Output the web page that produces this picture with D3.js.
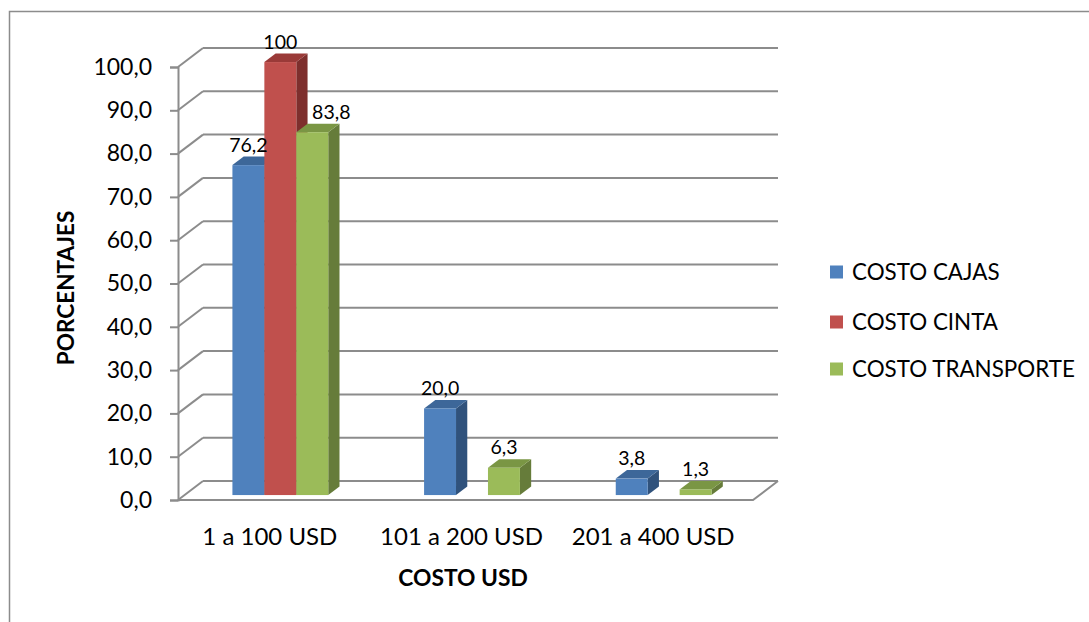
<!DOCTYPE html>
<html>
<head>
<meta charset="utf-8">
<script src="https://cdn.jsdelivr.net/npm/d3@7/dist/d3.min.js"></script>
<style>
  html, body { margin: 0; padding: 0; background: #fff; }
  svg { display: block; }
  text { font-family: "Lato", "Open Sans", sans-serif; fill: #000; }
</style>
</head>
<body>
<svg id="chart" width="1089" height="622"></svg>
<script>
// Cost ranges (x axis)
const categories = ["1 a 100 USD", "101 a 200 USD", "201 a 400 USD"];
// Series names
const seriesNames = ["COSTO CAJAS", "COSTO CINTA", "COSTO TRANSPORTE"];
// Percentages per series, one per cost range (null = no bar)
const costoCajas = [76.2, 20.0, 3.8];
const costoCinta = [100, null, null];
const costoTransporte = [83.8, 6.3, 1.3];
// Y axis ticks
const yTicks = [0, 10, 20, 30, 40, 50, 60, 70, 80, 90, 100];

const seriesValues = [costoCajas, costoCinta, costoTransporte];
const colors = [
  { front: "#4F81BD", side: "#30527C", top: "#3D6799" },
  { front: "#C0504D", side: "#7E2F2D", top: "#9A3A38" },
  { front: "#9BBB59", side: "#667C3A", top: "#7A9644" }
];
const gridColor = "#8C8C8C";

const svg = d3.select("#chart");

// Outer frame
svg.append("rect")
  .attr("x", 9.5).attr("y", 11.5)
  .attr("width", 1100).attr("height", 640)
  .attr("fill", "none").attr("stroke", "#8C8C8C").attr("stroke-width", 1.5);

// Plot geometry (front plane + oblique depth)
const x0 = 178, x1 = 753;
const depthX = 25, depthY = -19;
const y = d3.scaleLinear().domain([0, 100]).range([500, 67]);
const x = d3.scaleBand().domain(categories).range([x0, x1]).paddingInner(0).paddingOuter(0);
const xs = d3.scaleBand().domain(seriesNames).range([0, x.bandwidth()]).paddingInner(0).paddingOuter(1.5);

// Bars sit between these depth fractions
const barDepthStart = 0.26, barDepthEnd = 0.71;

const grid = svg.append("g");

// Back wall gridlines + side-wall diagonals
yTicks.forEach(t => {
  const yf = y(t);
  grid.append("line")
    .attr("x1", x0 + depthX).attr("x2", x1 + depthX)
    .attr("y1", yf + depthY).attr("y2", yf + depthY)
    .attr("stroke", gridColor).attr("stroke-width", 2);
  grid.append("line")
    .attr("x1", x0).attr("x2", x0 + depthX)
    .attr("y1", yf).attr("y2", yf + depthY)
    .attr("stroke", gridColor).attr("stroke-width", 2);
});

// Floor edges
grid.append("path")
  .attr("d", `M${x0},${y(0)} L${x1},${y(0)} L${x1 + depthX},${y(0) + depthY}`)
  .attr("fill", "none").attr("stroke", gridColor).attr("stroke-width", 2);

// Vertical axis (front)
const yAxis = d3.axisLeft(y).tickValues(yTicks).tickSize(8).tickPadding(18)
  .tickFormat(d => d3.format(".1f")(d).replace(".", ","));
const yAxisG = svg.append("g").attr("transform", `translate(${x0},0)`).call(yAxis);
yAxisG.select(".domain").attr("stroke", gridColor).attr("stroke-width", 2);
yAxisG.selectAll(".tick line").attr("stroke", gridColor).attr("stroke-width", 2);
yAxisG.selectAll(".tick text").attr("font-size", 23).attr("font-family", "Lato, sans-serif").attr("fill", "#000");

// Bars
const bars = svg.append("g");
const labels = svg.append("g");
const dxs = depthX * barDepthStart, dys = depthY * barDepthStart;
const bdx = depthX * (barDepthEnd - barDepthStart), bdy = depthY * (barDepthEnd - barDepthStart);
const labelFormats = [
  d => d3.format(".1f")(d).replace(".", ","),
  d => d3.format("d")(d),
  d => d3.format(".1f")(d).replace(".", ",")
];

categories.forEach((cat, ci) => {
  seriesNames.forEach((s, si) => {
    const v = seriesValues[si][ci];
    if (v === null) return;
    const left = x(cat) + xs(s) + dxs;
    const right = left + xs.bandwidth();
    const bottom = y(0) + dys;
    const top = y(v) + dys;
    const c = colors[si];
    // side face
    bars.append("path")
      .attr("d", `M${right},${bottom} L${right + bdx},${bottom + bdy} L${right + bdx},${top + bdy} L${right},${top} Z`)
      .attr("fill", c.side);
    // top face
    bars.append("path")
      .attr("d", `M${left},${top} L${right},${top} L${right + bdx},${top + bdy} L${left + bdx},${top + bdy} Z`)
      .attr("fill", c.top);
    // front face
    bars.append("rect")
      .attr("x", left).attr("y", top)
      .attr("width", right - left).attr("height", bottom - top)
      .attr("fill", c.front);

    // value label; the transport label in the first range is nudged clear of the taller neighbour
    const nudge = (ci === 0 && si === 2) ? 19 : 0;
    labels.append("text")
      .attr("x", (left + right) / 2 + nudge)
      .attr("y", top + bdy - 5)
      .attr("text-anchor", "middle")
      .attr("font-size", 19.5)
      .text(labelFormats[si](v));
  });
});

// Category labels
const xAxis = d3.axisBottom(x).tickSize(0).tickPadding(0);
const xAxisG = svg.append("g").attr("transform", `translate(-4,536)`).call(xAxis);
xAxisG.select(".domain").remove();
xAxisG.selectAll(".tick text").attr("font-size", 24).attr("font-family", "Lato, sans-serif")
  .attr("fill", "#000").attr("dy", "0.36em").attr("y", 0);

// Axis titles
svg.append("text")
  .attr("x", 463).attr("y", 586)
  .attr("text-anchor", "middle").attr("font-size", 22.8).attr("font-weight", "bold")
  .text("COSTO USD");
svg.append("text")
  .attr("transform", "translate(74,288) rotate(-90)")
  .attr("text-anchor", "middle").attr("font-size", 22.6).attr("font-weight", "bold")
  .text("PORCENTAJES");

// Legend
const legend = svg.append("g");
const legendY = [272, 322, 369];
seriesNames.forEach((s, i) => {
  legend.append("rect")
    .attr("x", 830).attr("y", legendY[i] - 6.5)
    .attr("width", 13).attr("height", 13)
    .attr("fill", colors[i].front);
  legend.append("text")
    .attr("x", 852).attr("y", legendY[i] + 8)
    .attr("font-size", 22.4)
    .text(s);
});
</script>
</body>
</html>
